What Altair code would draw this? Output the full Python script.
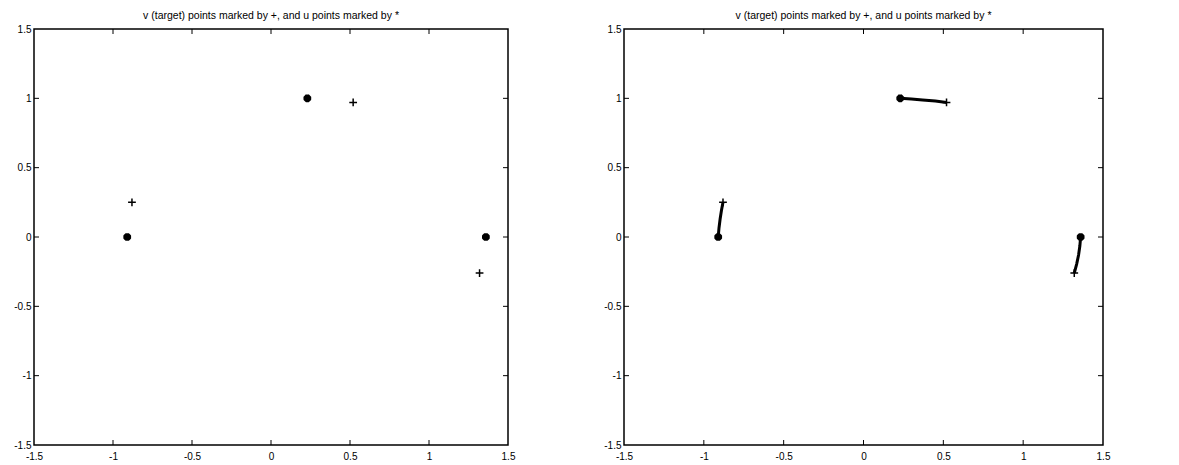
import altair as alt
import pandas as pd

# tick values
ticks = [-1.5, -1.0, -0.5, 0.0, 0.5, 1.0, 1.5]
inner_ticks = [-1.0, -0.5, 0.0, 0.5, 1.0]

# u points (marked by *)
u_x = [-0.91, 0.23, 1.36]
u_y = [0.0, 1.0, 0.0]
# v (target) points (marked by +)
v_x = [-0.88, 0.52, 1.32]
v_y = [0.25, 0.97, -0.26]

# paths from u to v (right panel)
path_id = [0, 0, 0, 0, 0, 1, 1, 1, 1, 1, 2, 2, 2, 2, 2]
path_x = [-0.91, -0.905, -0.898, -0.89, -0.88,
          0.23, 0.30, 0.37, 0.45, 0.52,
          1.36, 1.355, 1.347, 1.335, 1.32]
path_y = [0.0, 0.065, 0.13, 0.19, 0.25,
          1.0, 0.995, 0.988, 0.98, 0.97,
          0.0, -0.065, -0.13, -0.195, -0.26]

TITLE = "v (target) points marked by +, and u points marked by *"
FONT = "Liberation Sans"
H = 416

u_df = pd.DataFrame({"x": u_x, "y": u_y})
v_df = pd.DataFrame({"x": v_x, "y": v_y})
p_df = pd.DataFrame({"id": path_id, "x": path_x, "y": path_y, "o": list(range(len(path_x)))})
t_df = pd.DataFrame({"t": inner_ticks})

xscale = alt.Scale(domain=[-1.5, 1.5], nice=False, zero=False)
yscale = alt.Scale(domain=[-1.5, 1.5], nice=False, zero=False)

xaxis = alt.Axis(values=ticks, ticks=False, grid=False, domain=False, title=None,
                 labelExpr="'' + datum.value", labelFont=FONT, labelFontSize=10,
                 labelColor="black", labelPadding=6, labelFlush=False)
yaxis = alt.Axis(values=ticks, ticks=False, grid=False, domain=False, title=None,
                 labelExpr="'' + datum.value", labelFont=FONT, labelFontSize=10,
                 labelColor="black", labelPadding=3, labelFlush=False)

STAR = "M-1,0L1,0M0,-1L0,1M-0.7,-0.7L0.7,0.7M-0.7,0.7L0.7,-0.7"
PLUS = "M-1,0L1,0M0,-1L0,1"


def panel(with_paths, W):
    base_x = alt.X("x:Q", scale=xscale, axis=xaxis)
    base_y = alt.Y("y:Q", scale=yscale, axis=yaxis)
    stars = alt.Chart(u_df).mark_point(shape=STAR, filled=False, stroke="black",
                                       strokeWidth=3, size=60, opacity=1).encode(x=base_x, y=base_y)
    plus = alt.Chart(v_df).mark_point(shape=PLUS, filled=False, stroke="black",
                                      strokeWidth=1.5, size=60, opacity=1).encode(
        x=alt.X("x:Q", scale=xscale), y=alt.Y("y:Q", scale=yscale))
    tx_top = alt.Chart(t_df).mark_rule(color="black", strokeWidth=1).encode(
        x=alt.X("t:Q", scale=xscale), y=alt.value(0), y2=alt.value(5))
    tx_bot = alt.Chart(t_df).mark_rule(color="black", strokeWidth=1).encode(
        x=alt.X("t:Q", scale=xscale), y=alt.value(H), y2=alt.value(H - 5))
    ty_left = alt.Chart(t_df).mark_rule(color="black", strokeWidth=1).encode(
        y=alt.Y("t:Q", scale=yscale), x=alt.value(0), x2=alt.value(5))
    ty_right = alt.Chart(t_df).mark_rule(color="black", strokeWidth=1).encode(
        y=alt.Y("t:Q", scale=yscale), x=alt.value(W), x2=alt.value(W - 5))
    layers = [tx_top, tx_bot, ty_left, ty_right]
    if with_paths:
        lines = alt.Chart(p_df).mark_line(color="black", strokeWidth=3).encode(
            x=alt.X("x:Q", scale=xscale), y=alt.Y("y:Q", scale=yscale),
            detail="id:N", order="o:Q")
        layers.append(lines)
    layers += [stars, plus]
    return alt.layer(*layers).properties(
        width=W, height=H,
        title=alt.TitleParams(TITLE, font=FONT, fontSize=10.5, fontWeight="normal",
                              color="black", offset=3))


chart = alt.hconcat(panel(False, 474), panel(True, 479), spacing=87).properties(
    padding={"left": 5, "top": 1, "right": 5, "bottom": 5}
).configure(background="white").configure_view(stroke="black", strokeWidth=1.5)

chart.save("out.html", embed_options={"renderer": "svg", "actions": False})
